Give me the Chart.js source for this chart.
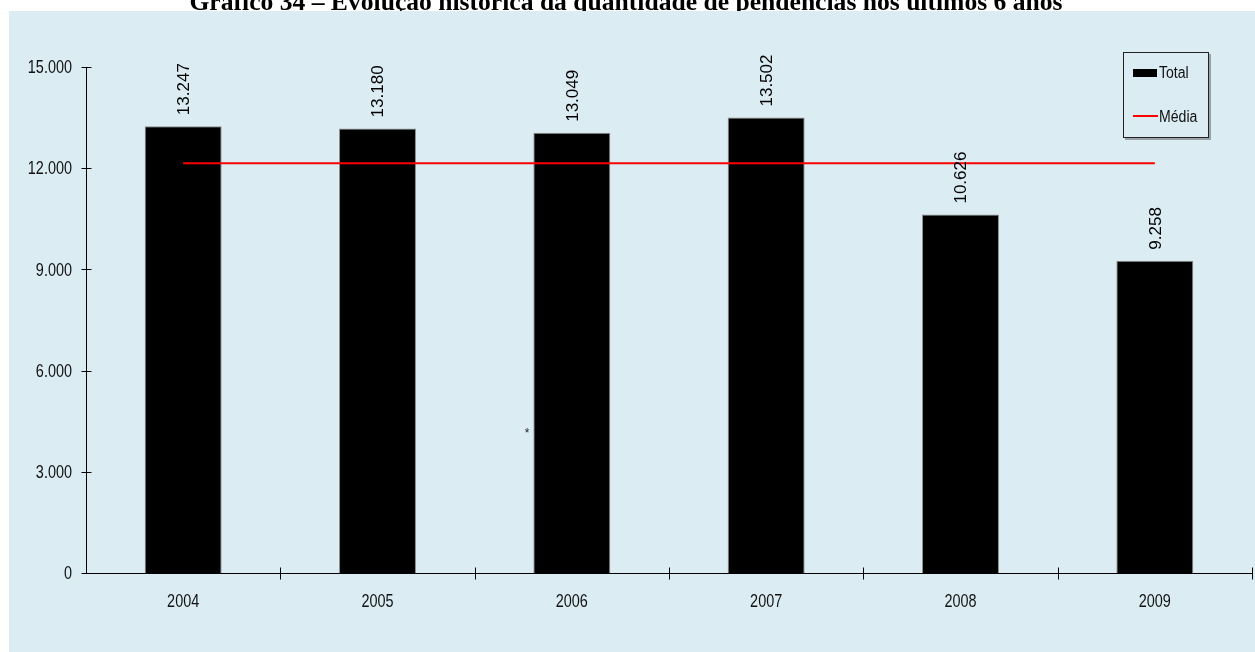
<!DOCTYPE html>
<html>
<head>
<meta charset="utf-8">
<script src="https://cdn.jsdelivr.net/npm/chart.js@4.4.1/dist/chart.umd.min.js"></script>
<style>
  html, body { margin: 0; padding: 0; background: #ffffff; }
  canvas { display: block; }
</style>
</head>
<body>
<canvas id="pendenciasChart" width="1255" height="652"></canvas>
<script>
const anos = ["2004", "2005", "2006", "2007", "2008", "2009"];
const totais = [13247, 13180, 13049, 13502, 10626, 9258];
const medias = [12144, 12144, 12144, 12144, 12144, 12144];
const yTicks = [0, 3000, 6000, 9000, 12000, 15000];
const titulo = "Gráfico 34 – Evolução histórica da quantidade de pendências nos últimos 6 anos";
const legendas = ["Total", "Média"];

const fundo = "#dbedf3";
const sans = "'Liberation Sans', Arial, sans-serif";

// 13247 -> "13.247"
function milhar(v) {
  return String(v).replace(/\B(?=(\d{3})+(?!\d))/g, ".");
}

// texto mais estreito, como no gráfico original
function textoEstreito(ctx, txt, x, y, fator) {
  ctx.save();
  ctx.translate(x, y);
  ctx.scale(fator, 1);
  ctx.fillText(txt, 0, 0);
  ctx.restore();
}

const desenho = {
  id: "desenho",
  beforeDraw(chart) {
    const ctx = chart.ctx;
    const w = chart.width, h = chart.height;
    ctx.save();
    ctx.fillStyle = "#ffffff";
    ctx.fillRect(0, 0, w, h);
    ctx.fillStyle = "#000000";
    ctx.font = "bold 25.6px 'Liberation Serif', 'Times New Roman', serif";
    ctx.textAlign = "center";
    ctx.textBaseline = "alphabetic";
    ctx.fillText(titulo, 626, 10);
    ctx.fillStyle = fundo;
    ctx.fillRect(9, 11, w - 9, h - 11);
    ctx.restore();
  },
  afterDatasetsDraw(chart) {
    const ctx = chart.ctx;
    const xs = chart.scales.x, ys = chart.scales.y;
    const y0 = Math.round(ys.getPixelForValue(0)) + 0.5;
    const yTop = Math.round(ys.getPixelForValue(yTicks[yTicks.length - 1])) + 0.5;
    const xLeft = Math.round(xs.getPixelForValue(-0.5)) + 0.5;
    const xRight = Math.round(xs.getPixelForValue(anos.length - 0.5)) + 0.5;

    ctx.save();
    ctx.strokeStyle = "#000000";
    ctx.lineWidth = 1;
    ctx.beginPath();
    ctx.moveTo(xLeft, yTop);
    ctx.lineTo(xLeft, y0);
    ctx.lineTo(xRight, y0);
    yTicks.forEach(t => {
      const y = Math.round(ys.getPixelForValue(t)) + 0.5;
      ctx.moveTo(xLeft - 5, y);
      ctx.lineTo(xLeft + 5, y);
    });
    for (let i = 1; i <= anos.length; i++) {
      const x = Math.round(xs.getPixelForValue(i - 0.5)) + 0.5;
      ctx.moveTo(x, y0 - 6);
      ctx.lineTo(x, y0 + 6);
    }
    ctx.stroke();

    // rótulos dos eixos
    ctx.fillStyle = "#111111";
    ctx.font = "19px " + sans;
    ctx.textBaseline = "middle";
    ctx.textAlign = "right";
    yTicks.forEach(t => {
      textoEstreito(ctx, milhar(t), 72, ys.getPixelForValue(t) + 1, 0.76);
    });
    ctx.textAlign = "center";
    anos.forEach((a, i) => {
      textoEstreito(ctx, a, xs.getPixelForValue(i), 602, 0.76);
    });

    // valores acima das barras, na vertical (dataset 1 = barras)
    ctx.fillStyle = "#000000";
    ctx.font = "17px " + sans;
    ctx.textAlign = "left";
    ctx.textBaseline = "middle";
    chart.getDatasetMeta(1).data.forEach((bar, i) => {
      ctx.save();
      ctx.translate(bar.x + 1, bar.y - 11);
      ctx.rotate(-Math.PI / 2);
      ctx.fillText(milhar(totais[i]), 0, 0);
      ctx.restore();
    });

    // legenda
    ctx.fillStyle = "#9aa3a6";
    ctx.fillRect(1125, 54, 86, 86);
    ctx.fillStyle = fundo;
    ctx.fillRect(1123, 52, 86, 86);
    ctx.strokeStyle = "#222222";
    ctx.strokeRect(1123.5, 52.5, 85, 85);
    ctx.fillStyle = "#000000";
    ctx.fillRect(1133, 69, 24, 8);
    ctx.strokeStyle = "#ff0000";
    ctx.lineWidth = 2;
    ctx.beginPath();
    ctx.moveTo(1133, 116);
    ctx.lineTo(1158, 116);
    ctx.stroke();
    ctx.fillStyle = "#111111";
    ctx.font = "16px " + sans;
    ctx.textAlign = "left";
    textoEstreito(ctx, legendas[0], 1159, 74, 0.88);
    textoEstreito(ctx, legendas[1], 1159, 118, 0.88);

    ctx.font = "12px " + sans;
    ctx.fillStyle = "#222222";
    ctx.textAlign = "center";
    ctx.fillText("*", 527, 434);
    ctx.restore();
  }
};

new Chart(document.getElementById("pendenciasChart"), {
  type: "bar",
  data: {
    labels: anos,
    datasets: [
      {
        type: "line",
        label: legendas[1],
        data: medias,
        borderColor: "#ff0000",
        borderWidth: 2,
        pointRadius: 0,
        tension: 0,
        fill: false,
        order: 0,
      },
      {
        label: legendas[0],
        data: totais,
        backgroundColor: "#000000",
        borderColor: "#8c8c8c",
        borderWidth: 1,
        barPercentage: 0.396,
        categoryPercentage: 1,
        order: 1,
      },
    ],
  },
  options: {
    responsive: false,
    devicePixelRatio: 1,
    animation: false,
    layout: { padding: { left: 86, right: 3, top: 67, bottom: 79 } },
    scales: {
      x: { display: false, offset: true },
      y: { display: false, min: 0, max: 15000 },
    },
    plugins: {
      legend: { display: false },
      tooltip: { enabled: false },
    },
  },
  plugins: [desenho],
});
</script>
</body>
</html>
